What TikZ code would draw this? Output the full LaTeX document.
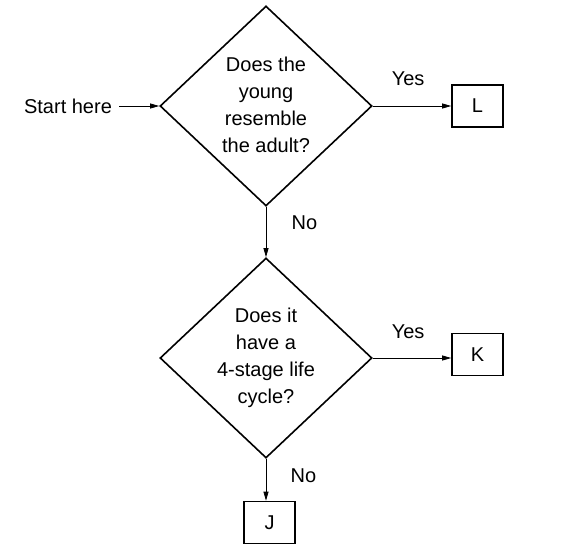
\documentclass[tikz,border=0pt]{standalone}
\usepackage{fontspec}
\setmainfont{Liberation Sans}
\usetikzlibrary{arrows.meta, shapes.geometric}

\begin{document}
\begin{tikzpicture}[x=1pt, y=-1pt, font=\fontsize{20}{27}\selectfont,
        question/.style={diamond, draw, line width=1.6pt, minimum width=212pt, minimum height=200pt, inner sep=0pt},
        answer/.style={rectangle, draw, line width=1.6pt, minimum width=51pt, minimum height=42pt},
        flow/.style={-{Triangle[length=9pt, width=5pt]}, line width=0.8pt}]
        \useasboundingbox (0,0) rectangle (569,552);

        \node[inner sep=3pt] at (68,106) (start) {Start here};
        \node[question, label={[align=center, yshift=1.5pt]center:Does the\\young\\resemble\\the adult?}] at (266,106) (q1) {};
        \node[question, label={[align=center]center:Does it\\have a\\4-stage life\\cycle?}] at (266,358) (q2) {};
        \node[answer] at (477.5,106)   (l) {L};
        \node[answer] at (477.5,354.5) (k) {K};
        \node[answer] at (269.5,522.5) (j) {J};

        \draw [flow] ([xshift=4pt]start.east) -- (q1.west);
        \draw [flow] (q1.east) -- node[pos=0.45, above=17pt] {Yes} (l.west);
        \draw [flow] (q1.south) -- node[pos=0.31, right=22pt] {No} (q2.north);
        \draw [flow] (q2.east) -- node[pos=0.45, above=16pt] {Yes} (q2.east -| k.west);
        \draw [flow] (q2.south) -- node[pos=0.4, right=21pt] {No} (q2.south |- j.north);
    \end{tikzpicture}
\end{document}
